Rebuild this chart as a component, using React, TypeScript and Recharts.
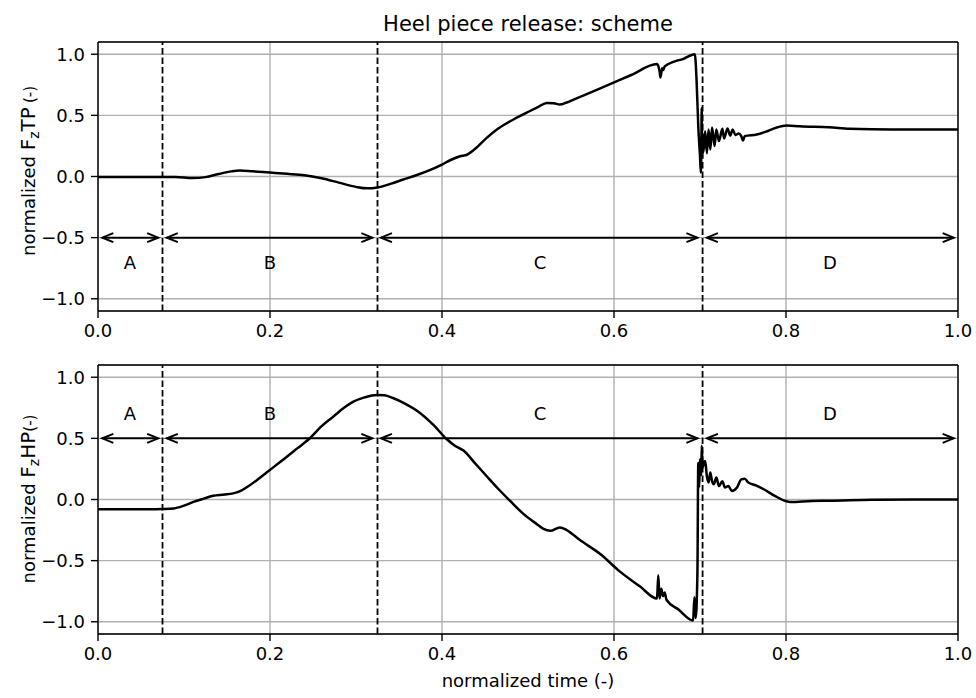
import React from 'react';
import {
  LineChart,
  Line,
  XAxis,
  YAxis,
  CartesianGrid,
  ReferenceLine,
  ReferenceDot,
} from 'recharts';

// toe piece force (top panel)
const tTP = [
  0, 0.02, 0.05, 0.075, 0.09, 0.11, 0.125, 0.14, 0.155, 0.165, 0.18, 0.2, 0.22, 0.24, 0.26, 0.28, 0.3,
  0.313, 0.325, 0.34, 0.355, 0.37, 0.385, 0.4, 0.41, 0.421, 0.429, 0.44, 0.452, 0.465, 0.483, 0.498,
  0.512, 0.522, 0.53, 0.537, 0.545, 0.553, 0.584, 0.62, 0.65, 0.653, 0.654, 0.656, 0.657, 0.659, 0.67,
  0.68, 0.694, 0.696, 0.698, 0.7, 0.701, 0.7015, 0.702, 0.7025, 0.703, 0.704, 0.706, 0.708, 0.71, 0.712,
  0.714, 0.717, 0.719, 0.722, 0.726, 0.728, 0.732, 0.735, 0.738, 0.741, 0.745, 0.748, 0.75, 0.752,
  0.766, 0.778, 0.789, 0.801, 0.816, 0.85, 0.874, 0.9, 0.95, 1.0,
];
const fzTP = [
  -0.005, -0.005, -0.004, -0.005, -0.004, -0.013, -0.005, 0.02, 0.042, 0.049, 0.042, 0.032, 0.022, 0.01,
  -0.015, -0.05, -0.085, -0.097, -0.09, -0.06, -0.025, 0.01, 0.05, 0.098, 0.135, 0.166, 0.178, 0.235,
  0.316, 0.39, 0.466, 0.52, 0.57, 0.602, 0.6, 0.588, 0.605, 0.629, 0.72, 0.83, 0.92, 0.86, 0.81, 0.885,
  0.87, 0.9, 0.94, 0.96, 1.0, 0.79, 0.41, 0.166, 0.03, 0.2, 0.56, 0.15, 0.35, 0.2, 0.37, 0.19, 0.384,
  0.22, 0.4, 0.25, 0.384, 0.29, 0.39, 0.31, 0.392, 0.335, 0.384, 0.34, 0.351, 0.33, 0.294, 0.33,
  0.343, 0.37, 0.4, 0.417, 0.41, 0.402, 0.39, 0.386, 0.385, 0.385,
];

// heel piece force (bottom panel)
const tHP = [
  0, 0.03, 0.06, 0.075, 0.088, 0.1, 0.111, 0.122, 0.134, 0.147, 0.157, 0.166, 0.173, 0.185, 0.196,
  0.206, 0.216, 0.232, 0.247, 0.26, 0.274, 0.286, 0.297, 0.31, 0.324, 0.333, 0.343, 0.358, 0.374, 0.39,
  0.405, 0.415, 0.425, 0.438, 0.452, 0.465, 0.479, 0.495, 0.51, 0.518, 0.526, 0.537, 0.545, 0.56, 0.584,
  0.607, 0.63, 0.65, 0.6515, 0.653, 0.655, 0.657, 0.659, 0.661, 0.675, 0.692, 0.6935, 0.695, 0.697,
  0.698, 0.699, 0.7, 0.7015, 0.702, 0.703, 0.7045, 0.706, 0.708, 0.71, 0.712, 0.714, 0.716, 0.719,
  0.722, 0.726, 0.729, 0.733, 0.737, 0.743, 0.748, 0.752, 0.756, 0.765, 0.774, 0.787, 0.799, 0.805,
  0.83, 0.851, 0.9, 0.95, 1.0,
];
const fzHP = [
  -0.08, -0.08, -0.08, -0.078, -0.073, -0.05, -0.02, 0.005, 0.03, 0.04, 0.05, 0.07, 0.1, 0.16, 0.22,
  0.275, 0.33, 0.42, 0.505, 0.6, 0.68, 0.75, 0.8, 0.835, 0.855, 0.852, 0.83, 0.78, 0.71, 0.61, 0.497,
  0.44, 0.4, 0.3, 0.19, 0.09, -0.01, -0.12, -0.2, -0.24, -0.256, -0.228, -0.25, -0.33, -0.446, -0.59,
  -0.71, -0.81, -0.62, -0.81, -0.73, -0.79, -0.76, -0.82, -0.9, -0.99, -0.8, -0.97, -0.6, 0.3, 0.1,
  0.33, 0.2, 0.44, 0.26, 0.3, 0.315, 0.19, 0.14, 0.22, 0.15, 0.125, 0.18, 0.11, 0.15, 0.098, 0.11,
  0.07, 0.098, 0.165, 0.17, 0.14, 0.115, 0.084, 0.03, -0.011, -0.02, -0.012, -0.01, -0.002, 0, 0,
];

const phaseBounds = [0.075, 0.325, 0.703];
const phaseNames = ['A', 'B', 'C', 'D'];
const phaseLabelX = [0.037, 0.2, 0.514, 0.851];
const arrowStart = [0.005, 0.08, 0.329, 0.708];
const arrowEnd = [0.07, 0.319, 0.697, 0.995];

const xTicks = [0, 0.2, 0.4, 0.6, 0.8, 1.0];
const yTicks = [-1.0, -0.5, 0.0, 0.5, 1.0];

const FONT = 'DejaVu Sans';

const fmtY = (v: number) => v.toFixed(1).replace('-', '\u2212');

const ArrowShape = (p: any) => {
  const { x1, y1, x2, y2 } = p;
  const h = 11;
  const w = 4.5;
  return (
    <g stroke="#000" strokeWidth={2} fill="none">
      <line x1={x1} y1={y1} x2={x2} y2={y2} />
      <polyline points={`${x1 + h},${y1 - w} ${x1},${y1} ${x1 + h},${y1 + w}`} />
      <polyline points={`${x2 - h},${y2 - w} ${x2},${y2} ${x2 - h},${y2 + w}`} />
    </g>
  );
};

function Panel({ t, f, arrowY, labelY }: { t: number[]; f: number[]; arrowY: number; labelY: number }) {
  const data = t.map((x, i) => ({ t: x, f: f[i] }));
  return (
    <LineChart width={976} height={345} data={data} margin={{ top: 42, right: 18, left: 38, bottom: 0 }}>
      <CartesianGrid stroke="#b0b0b0" strokeWidth={1.4} />
      <XAxis
        dataKey="t"
        type="number"
        domain={[0, 1]}
        ticks={xTicks}
        interval={0}
        height={34}
        tickFormatter={(v: number) => v.toFixed(1)}
        tickSize={7}
        tickMargin={6}
        axisLine={{ stroke: '#000', strokeWidth: 1.4 }}
        tickLine={{ stroke: '#000', strokeWidth: 1.4 }}
        tick={{ fill: '#000', fontSize: 18, fontFamily: FONT }}
      />
      <YAxis
        type="number"
        domain={[-1.1, 1.1]}
        ticks={yTicks}
        interval={0}
        width={60}
        tickFormatter={fmtY}
        tickSize={7}
        tickMargin={6}
        axisLine={{ stroke: '#000', strokeWidth: 1.4 }}
        tickLine={{ stroke: '#000', strokeWidth: 1.4 }}
        tick={{ fill: '#000', fontSize: 18, fontFamily: FONT }}
      />
      <ReferenceLine y={1.1} stroke="#000" strokeWidth={1.4} />
      <ReferenceLine x={1} stroke="#000" strokeWidth={1.4} />
      {phaseBounds.map((b) => (
        <ReferenceLine key={b} x={b} stroke="#000" strokeWidth={1.8} strokeDasharray="6.5 3" />
      ))}
      {phaseNames.map((n, i) => (
        <ReferenceLine
          key={'arr' + n}
          segment={[
            { x: arrowStart[i], y: arrowY },
            { x: arrowEnd[i], y: arrowY },
          ]}
          shape={ArrowShape}
        />
      ))}
      {phaseNames.map((n, i) => (
        <ReferenceDot
          key={'lab' + n}
          x={phaseLabelX[i]}
          y={labelY}
          r={0}
          shape={(p: any) => (
            <text
              x={p.cx}
              y={p.cy}
              textAnchor="middle"
              dominantBaseline="central"
              fontSize={18}
              fontFamily={FONT}
              fill="#000"
            >
              {n}
            </text>
          )}
        />
      ))}
      <Line
        dataKey="f"
        type="monotone"
        stroke="#000"
        strokeWidth={2.5}
        dot={false}
        isAnimationActive={false}
      />
    </LineChart>
  );
}

export default function App() {
  return (
    <div style={{ position: 'absolute', left: 0, top: 0, width: 976, height: 698, background: '#fff' }}>
      <div style={{ position: 'absolute', left: 0, top: 0 }}>
        <Panel t={tTP} f={fzTP} arrowY={-0.5} labelY={-0.7} />
      </div>
      <div style={{ position: 'absolute', left: 0, top: 323 }}>
        <Panel t={tHP} f={fzHP} arrowY={0.5} labelY={0.7} />
      </div>
      <svg
        width={976}
        height={698}
        style={{ position: 'absolute', left: 0, top: 0, pointerEvents: 'none' }}
        fontFamily={FONT}
      >
        <text x={528} y={30.5} textAnchor="middle" fontSize={21} fill="#000">
          Heel piece release: scheme
        </text>
        <text x={528} y={687} textAnchor="middle" fontSize={18} fill="#000">
          normalized time (-)
        </text>
        <text x={35} y={171} transform="rotate(-90 35 171)" textAnchor="middle" fontSize={18} fill="#000">
          normalized <tspan fontSize={20}>F</tspan>
          <tspan fontSize={14} dy={4}>z</tspan>
          <tspan fontSize={20} dy={-4}>TP</tspan>
          <tspan fontSize={15} dx={4}>(-)</tspan>
        </text>
        <text x={35} y={499} transform="rotate(-90 35 499)" textAnchor="middle" fontSize={18} fill="#000">
          normalized <tspan fontSize={20}>F</tspan>
          <tspan fontSize={14} dy={4}>z</tspan>
          <tspan fontSize={20} dy={-4}>HP</tspan>
          <tspan fontSize={15}>(-)</tspan>
        </text>
      </svg>
    </div>
  );
}
